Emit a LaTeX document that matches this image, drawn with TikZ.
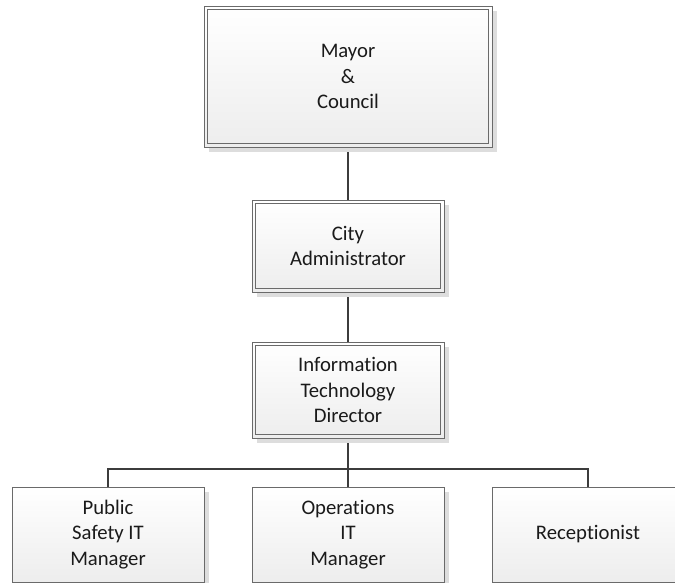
\documentclass[tikz,border=0pt]{standalone}
\usepackage{fontspec}
\setmainfont{Carlito}[RawFeature={-liga;-clig;-calt;-dlig}]
\usetikzlibrary{shadows,backgrounds}
\definecolor{linkgray}{HTML}{3C3C3C}
\definecolor{edgegray}{HTML}{6A6A6A}
\definecolor{shadowgray}{HTML}{DDDDDD}
\definecolor{fillbot}{HTML}{EDEDED}
\definecolor{inkgray}{HTML}{1A1A1A}
\begin{document}
\begin{tikzpicture}[x=1pt,y=-1pt,
  every node/.style={font=\fontsize{20.7}{25.2}\selectfont, text=inkgray, align=center},
  box/.style={rectangle, draw=edgegray, line width=0.9pt, top color=white, bottom color=fillbot,
    inner sep=0pt, drop shadow={shadow xshift=5pt, shadow yshift=-5pt, fill=shadowgray, opacity=1}},
  innerframe/.style={draw=edgegray, line width=0.9pt},
  link/.style={draw=linkgray, line width=2.8pt}]
\useasboundingbox (0,0) rectangle (675,583);
\clip (0,0) rectangle (675,583);

% upper chain of offices (framed twice)
\node[box, minimum width=288, minimum height=141] (mayor) at (348,76.5) {Mayor\\\&\\Council};
\node[box, minimum width=192, minimum height=92] (city) at (348,246) {City\\Administrator};
\node[box, minimum width=192, minimum height=96] (itd) at (348,390) {Information\\Technology\\Director};
\foreach \n in {mayor,city,itd}
  \draw[innerframe] ([shift={(4,4)}]\n.north west) rectangle ([shift={(-4,-4)}]\n.south east);

% staff reporting to the IT director
\node[box, minimum width=192, minimum height=95] (pub) at (108,534.5) {Public\\Safety IT\\Manager};
\node[box, minimum width=192, minimum height=95] (ops) at (348,534.5) {Operations\\IT\\Manager};
\node[box, minimum width=192, minimum height=95] (rec) at (588,534.5) {Receptionist};

\coordinate (bus) at (348,469);

\begin{scope}[on background layer]
  \draw[link] (mayor.south) -- (city.north);
  \draw[link] (city.south) -- (itd.north);
  \draw[link] (itd.south) -- (bus);
  \draw[link] (pub.north) |- (bus) -| (rec.north);
  \draw[link] (bus) -- (ops.north);
\end{scope}
\end{tikzpicture}
\end{document}
